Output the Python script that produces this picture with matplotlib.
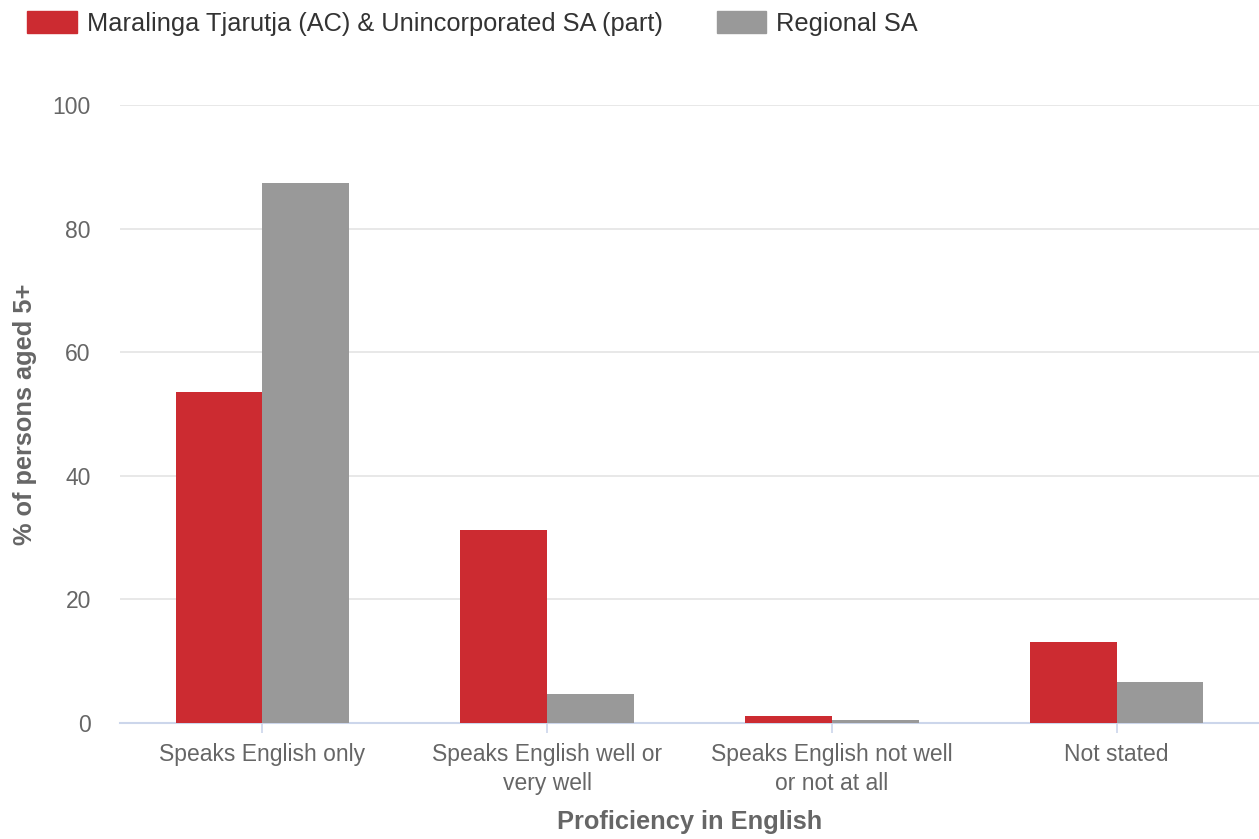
import numpy as np
import matplotlib.pyplot as plt
from matplotlib.patches import Patch

plt.rcParams['font.family'] = ['Liberation Sans', 'DejaVu Sans']

# Data
categories = ["Speaks English only", "Speaks English well or\nvery well",
              "Speaks English not well\nor not at all", "Not stated"]
series_names = ["Maralinga Tjarutja (AC) & Unincorporated SA (part)", "Regional SA"]
local_vals = [53.6, 31.2, 1.1, 13.1]
regional_vals = [87.3, 4.7, 0.5, 6.6]
y_ticks = [0, 20, 40, 60, 80, 100]

red = "#cc2b31"
grey = "#999999"
text_col = "#666666"

fig = plt.figure(figsize=(12.59, 8.39), dpi=100)
ax = fig.add_axes([120/1259, 116/839, 1139/1259, 618/839])

x = np.arange(len(categories))
w = 0.305
ax.bar(x - w/2, local_vals, w, color=red, zorder=3)
ax.bar(x + w/2, regional_vals, w, color=grey, zorder=3)

ax.set_xlim(-0.5, len(categories) - 0.5)
ax.set_ylim(0, 100)
ax.set_yticks(y_ticks)
ax.yaxis.grid(True, color="#e6e6e6", linewidth=1.3, zorder=0)
ax.set_xticks(x)
ax.set_xticklabels(categories, fontsize=16.5, color=text_col, linespacing=1.35)
ax.tick_params(axis='y', length=0, labelsize=16.5, labelcolor=text_col, pad=21)
ax.tick_params(axis='x', length=7, width=1.2, color="#ccd6eb", pad=7.5)

for s in ["top", "right", "left"]:
    ax.spines[s].set_visible(False)
ax.spines["bottom"].set_color("#ccd6eb")
ax.spines["bottom"].set_linewidth(1.5)

ax.set_ylabel("% of persons aged 5+", fontsize=18.3, fontweight="bold", color=text_col)
ax.yaxis.set_label_coords(-0.073, 0.5)
ax.set_xlabel("Proficiency in English", fontsize=18.3, fontweight="bold", color=text_col)
ax.xaxis.set_label_coords(0.5, -0.141)

handles = [Patch(color=red), Patch(color=grey)]
fig.legend(handles, series_names, loc="upper left", bbox_to_anchor=(0.0033, 1.014),
           ncol=2, frameon=False, fontsize=18.3, handlelength=1.95, handleheight=0.95,
           handletextpad=0.4, columnspacing=2.12, labelcolor="#333333")

fig.savefig("out.png", dpi=100)
